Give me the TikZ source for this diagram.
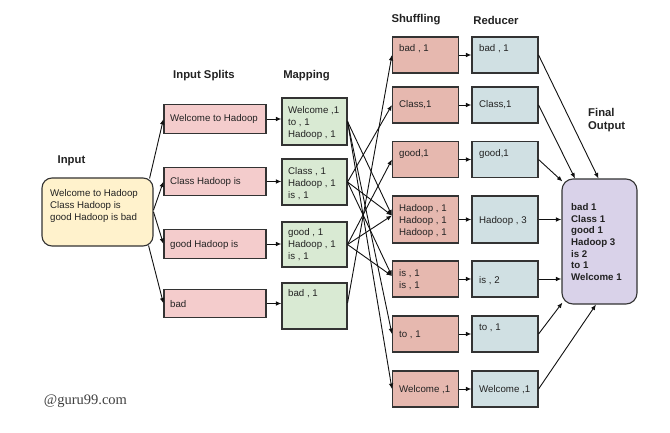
\documentclass[tikz,border=0pt]{standalone}
\usepackage{fontspec}
\setmainfont{Liberation Sans}
\newfontfamily\wmfont{Liberation Serif}
\usetikzlibrary{arrows.meta}
\definecolor{bordc}{HTML}{333333}
\definecolor{textc}{HTML}{222222}
\definecolor{linec}{HTML}{111111}
\definecolor{inc}{HTML}{FFF2CC}
\definecolor{splitc}{HTML}{F4CCCC}
\definecolor{mapc}{HTML}{D9EAD3}
\definecolor{shc}{HTML}{E6B8AF}
\definecolor{redc}{HTML}{D0E0E3}
\definecolor{finc}{HTML}{D9D2E9}
\tikzset{
  box/.style={draw=bordc, line width=1.1pt, inner sep=0pt},
  inbox/.style={box, fill=inc, rounded corners=10pt, minimum width=111pt, minimum height=68pt},
  finbox/.style={box, fill=finc, rounded corners=11pt, minimum width=75pt, minimum height=125pt},
  splitbox/.style={box, fill=splitc, minimum width=102pt, minimum height=28.5pt},
  mapbox/.style={box, fill=mapc, minimum width=65pt, minimum height=46pt},
  shbox/.style={box, fill=shc, minimum width=66pt, minimum height=36pt},
  redbox/.style={box, fill=redc, minimum width=66pt, minimum height=36pt},
  txt/.style={inner sep=0pt, align=left, anchor=west, text=textc, font=\fontsize{9.7}{12}\selectfont},
  btxt/.style={inner sep=0pt, align=left, anchor=west, text=textc, font=\bfseries\fontsize{9.7}{11.7}\selectfont},
  lbl/.style={inner sep=0pt, align=left, text=textc, font=\bfseries\fontsize{11.3}{13}\selectfont},
  arr/.style={-{Latex[length=5.5pt,width=4.5pt]}, line width=0.9pt, draw=linec},
}
\begin{document}
\begin{tikzpicture}[x=1pt,y=-1pt]
\useasboundingbox[fill=white] (0,0) rectangle (670,433);

% headings
\node[lbl] (hin) at (71.5,161) {Input};
\node[lbl] (hsp) at (204,76) {Input Splits};
\node[lbl] (hmp) at (306.5,76) {Mapping};
\node[lbl] (hsh) at (416,20) {Shuffling};
\node[lbl] (hrd) at (496,20) {Reducer};
\node[lbl, anchor=west] (hfo) at (588,120.5) {Final\\Output};

% input
\node[inbox] (in) at (97.5,212) {};
\node[txt] (tin) at (50,206) {Welcome to Hadoop\\Class Hadoop is\\good Hadoop is bad};

% splits
\node[splitbox] (s1) at (215,119) {};
\node[splitbox] (s2) at (215,181.5) {};
\node[splitbox] (s3) at (215,244) {};
\node[splitbox] (s4) at (215,303.5) {};
\node[txt] (ts1) at (170,119) {Welcome to Hadoop};
\node[txt] (ts2) at (170,182) {Class Hadoop is};
\node[txt] (ts3) at (170,244.5) {good Hadoop is};
\node[txt] (ts4) at (170,304) {bad};

% mapping
\node[mapbox, minimum height=47pt] (m1) at (314.5,121.5) {};
\node[mapbox] (m2) at (314.5,182) {};
\node[mapbox, minimum height=45pt] (m3) at (314.5,244.5) {};
\node[mapbox] (m4) at (314.5,306) {};
\node[txt] (tm1) at (288,122.5) {Welcome ,1\\to , 1\\Hadoop , 1};
\node[txt] (tm2) at (288,183.5) {Class , 1\\Hadoop , 1\\is , 1};
\node[txt] (tm3) at (288,245) {good , 1\\Hadoop , 1\\is , 1};
\node[txt] (tm4) at (288,294) {bad , 1};

% shuffling
\node[shbox] (h1) at (425.5,55) {};
\node[shbox] (h2) at (425.5,105) {};
\node[shbox] (h3) at (425.5,159.5) {};
\node[shbox, minimum height=47pt] (h4) at (425.5,219.5) {};
\node[shbox] (h5) at (425.5,279) {};
\node[shbox] (h6) at (425.5,334) {};
\node[shbox] (h7) at (425.5,389) {};
\node[txt] (th1) at (399,49) {bad , 1};
\node[txt] (th2) at (399,105) {Class,1};
\node[txt] (th3) at (399,154) {good,1};
\node[txt] (th4) at (399,221) {Hadoop , 1\\Hadoop , 1\\Hadoop , 1};
\node[txt] (th5) at (399,280) {is , 1\\is , 1};
\node[txt] (th6) at (399,335) {to ,  1};
\node[txt] (th7) at (399,390) {Welcome ,1};

% reducer
\node[redbox] (r1) at (505,55) {};
\node[redbox] (r2) at (505,105) {};
\node[redbox] (r3) at (505,159.5) {};
\node[redbox, minimum height=47pt] (r4) at (505,219.5) {};
\node[redbox] (r5) at (505,279) {};
\node[redbox] (r6) at (505,334) {};
\node[redbox] (r7) at (505,389) {};
\node[txt] (tr1) at (479,49) {bad , 1};
\node[txt] (tr2) at (479,105) {Class,1};
\node[txt] (tr3) at (479,154) {good,1};
\node[txt] (tr4) at (479,221) {Hadoop , 3};
\node[txt] (tr5) at (479,281) {is , 2};
\node[txt] (tr6) at (479,328) {to ,  1};
\node[txt] (tr7) at (479,390) {Welcome ,1};

% final output
\node[finbox] (fo) at (599.5,241.5) {};
\node[btxt] (tfo) at (571,242) {bad 1\\Class 1\\good 1\\Hadoop 3\\is 2\\to 1\\Welcome 1};

% watermark
\node[inner sep=0pt, text=black!75, font=\wmfont\fontsize{14.5}{16}\selectfont] (wm) at (85.5,401) {@guru99.com};

% input -> splits
\draw[arr] ([xshift=-4pt,yshift=-1pt]in.north east) -- (s1.west);
\draw[arr] ([yshift=2pt]in.east) -- (s2.west);
\draw[arr] (in.east) -- (s3.west);
\draw[arr] ([xshift=-5pt,yshift=1pt]in.south east) -- (s4.west);

% splits -> mapping
\foreach \i in {1,2,3,4}{
  \draw[arr] (s\i.east) -- (s\i.east -| m\i.west);
}

% mapping -> shuffling
\draw[arr] (m1.east) -- (h7.west);
\draw[arr] (m1.east) -- (h6.west);
\draw[arr] (m1.east) -- ([yshift=4pt]h4.west);
\draw[arr] (m2.east) -- (h2.west);
\draw[arr] (m2.east) -- ([yshift=4pt]h4.west);
\draw[arr] (m2.east) -- ([yshift=3pt]h5.west);
\draw[arr] (m3.east) -- (h3.west);
\draw[arr] (m3.east) -- ([yshift=4pt]h4.west);
\draw[arr] (m3.east) -- ([yshift=3pt]h5.west);
\draw[arr] ([yshift=3pt]m4.east) -- (h1.west);

% shuffling -> reducer
\foreach \i in {1,...,7}{
  \draw[arr] (h\i.east) -- (h\i.east -| r\i.west);
}

% reducer -> final
\draw[arr] (r1.east) -- ([xshift=-1pt]fo.north);
\draw[arr] (r2.east) -- ([xshift=-24.5pt]fo.north);
\draw[arr] (r3.east) -- ([xshift=1pt,yshift=-3pt]fo.north west);
\draw[arr] (r4.east) -- (r4.east -| fo.west);
\draw[arr] (r5.east) -- (r5.east -| fo.west);
\draw[arr] (r6.east) -- ([xshift=1pt,yshift=2pt]fo.south west);
\draw[arr] (r7.east) -- ([xshift=-3.5pt]fo.south);
\end{tikzpicture}
\end{document}
